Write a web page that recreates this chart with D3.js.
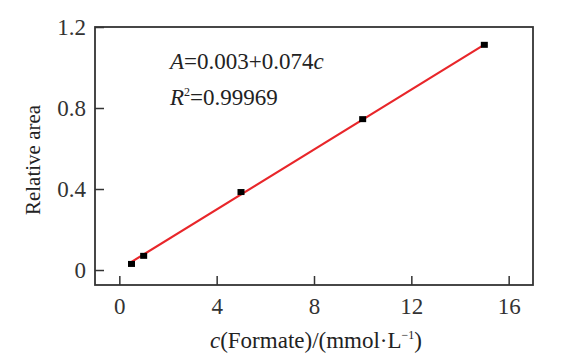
<!DOCTYPE html>
<html>
<head>
<meta charset="utf-8">
<script src="https://cdn.jsdelivr.net/npm/d3@7"></script>
<style>
  body { margin: 0; background: #fff; }
  svg text { font-family: "Liberation Serif", "DejaVu Serif", serif !important; fill: #222; }
</style>
</head>
<body>
<svg id="chart" width="571" height="361"></svg>
<script>

// Data.
var concentrations = [0.5, 1, 5, 10, 15];
var relativeAreas = [0.03, 0.07, 0.385, 0.745, 1.112];
var fitIntercept = 0.003;
var fitSlope = 0.074;
var xTicks = [0, 4, 8, 12, 16];
var yTicks = [0, 0.4, 0.8, 1.2];
var yTickLabels = ['0', '0.4', '0.8', '1.2'];

// Frame.
var svg = d3.select('#chart');
var box = { left: 95, right: 533, top: 27, bottom: 285 };

// Scales.
var x = d3.scaleLinear().domain([-1, 17]).range([box.left, box.right]);
var y = d3.scaleLinear().domain([-0.074, 1.2]).range([box.bottom, box.top]);

// Axes (ticks point inward).
var xAxis = d3.axisBottom(x).tickValues(xTicks).tickSize(-9).tickPadding(13)
  .tickFormat(d3.format('d'));
var yAxis = d3.axisLeft(y).tickValues(yTicks).tickSize(-9).tickPadding(9)
  .tickFormat(function(d, i) { return yTickLabels[i]; });

var gx = svg.append('g').attr('transform', 'translate(0,' + box.bottom + ')').call(xAxis);
var gy = svg.append('g').attr('transform', 'translate(' + box.left + ',0)').call(yAxis);

[gx, gy].forEach(function(g) {
  g.attr('font-family', null).attr('font-size', null);
  g.select('.domain').remove();
  g.selectAll('line').attr('stroke', '#333').attr('stroke-width', 1.5);
  g.selectAll('text').style('font-size', '23px').style('fill', '#333');
});
gx.selectAll('text').attr('dy', '0.71em');

// Plot border.
svg.append('rect')
  .attr('x', box.left).attr('y', box.top)
  .attr('width', box.right - box.left).attr('height', box.bottom - box.top)
  .attr('fill', 'none').attr('stroke', '#333').attr('stroke-width', 1.8);

// Fit line.
var fitX = [concentrations[0], concentrations[concentrations.length - 1]];
svg.append('path')
  .datum(fitX)
  .attr('fill', 'none')
  .attr('stroke', '#e8262a')
  .attr('stroke-width', 2.2)
  .attr('d', d3.line()
    .x(function(d) { return x(d); })
    .y(function(d) { return y(fitIntercept + fitSlope * d); }));

// Points.
svg.selectAll('rect.pt')
  .data(concentrations)
  .enter().append('rect')
  .attr('class', 'pt')
  .attr('x', function(d) { return x(d) - 3.5; })
  .attr('y', function(d, i) { return y(relativeAreas[i]) - 3; })
  .attr('width', 7).attr('height', 6)
  .attr('fill', '#000');

// Equation.
var eq = svg.append('text').attr('x', 170).attr('y', 69).style('font-size', '23px');
eq.append('tspan').style('font-style', 'italic').text('A');
eq.append('tspan').text('=0.003+0.074');
eq.append('tspan').style('font-style', 'italic').text('c');

var r2 = svg.append('text').attr('x', 170).attr('y', 105).style('font-size', '23px');
r2.append('tspan').style('font-style', 'italic').text('R');
r2.append('tspan').attr('dy', -9).style('font-size', '12px').text('2');
r2.append('tspan').attr('dy', 9).text('=0.99969');

// Axis titles.
svg.append('text')
  .attr('transform', 'translate(40,' + ((box.top + box.bottom) / 2 + 4) + ') rotate(-90)')
  .attr('text-anchor', 'middle')
  .style('font-size', '21px')
  .text('Relative area');

var xt = svg.append('text')
  .attr('x', 316).attr('y', 348)
  .attr('text-anchor', 'middle')
  .style('font-size', '23px');
xt.append('tspan').style('font-style', 'italic').text('c');
xt.append('tspan').text('(Formate)/(mmol·L');
xt.append('tspan').attr('dy', -9).style('font-size', '12px').text('−1');
xt.append('tspan').attr('dy', 9).text(')');

</script>
</body>
</html>
